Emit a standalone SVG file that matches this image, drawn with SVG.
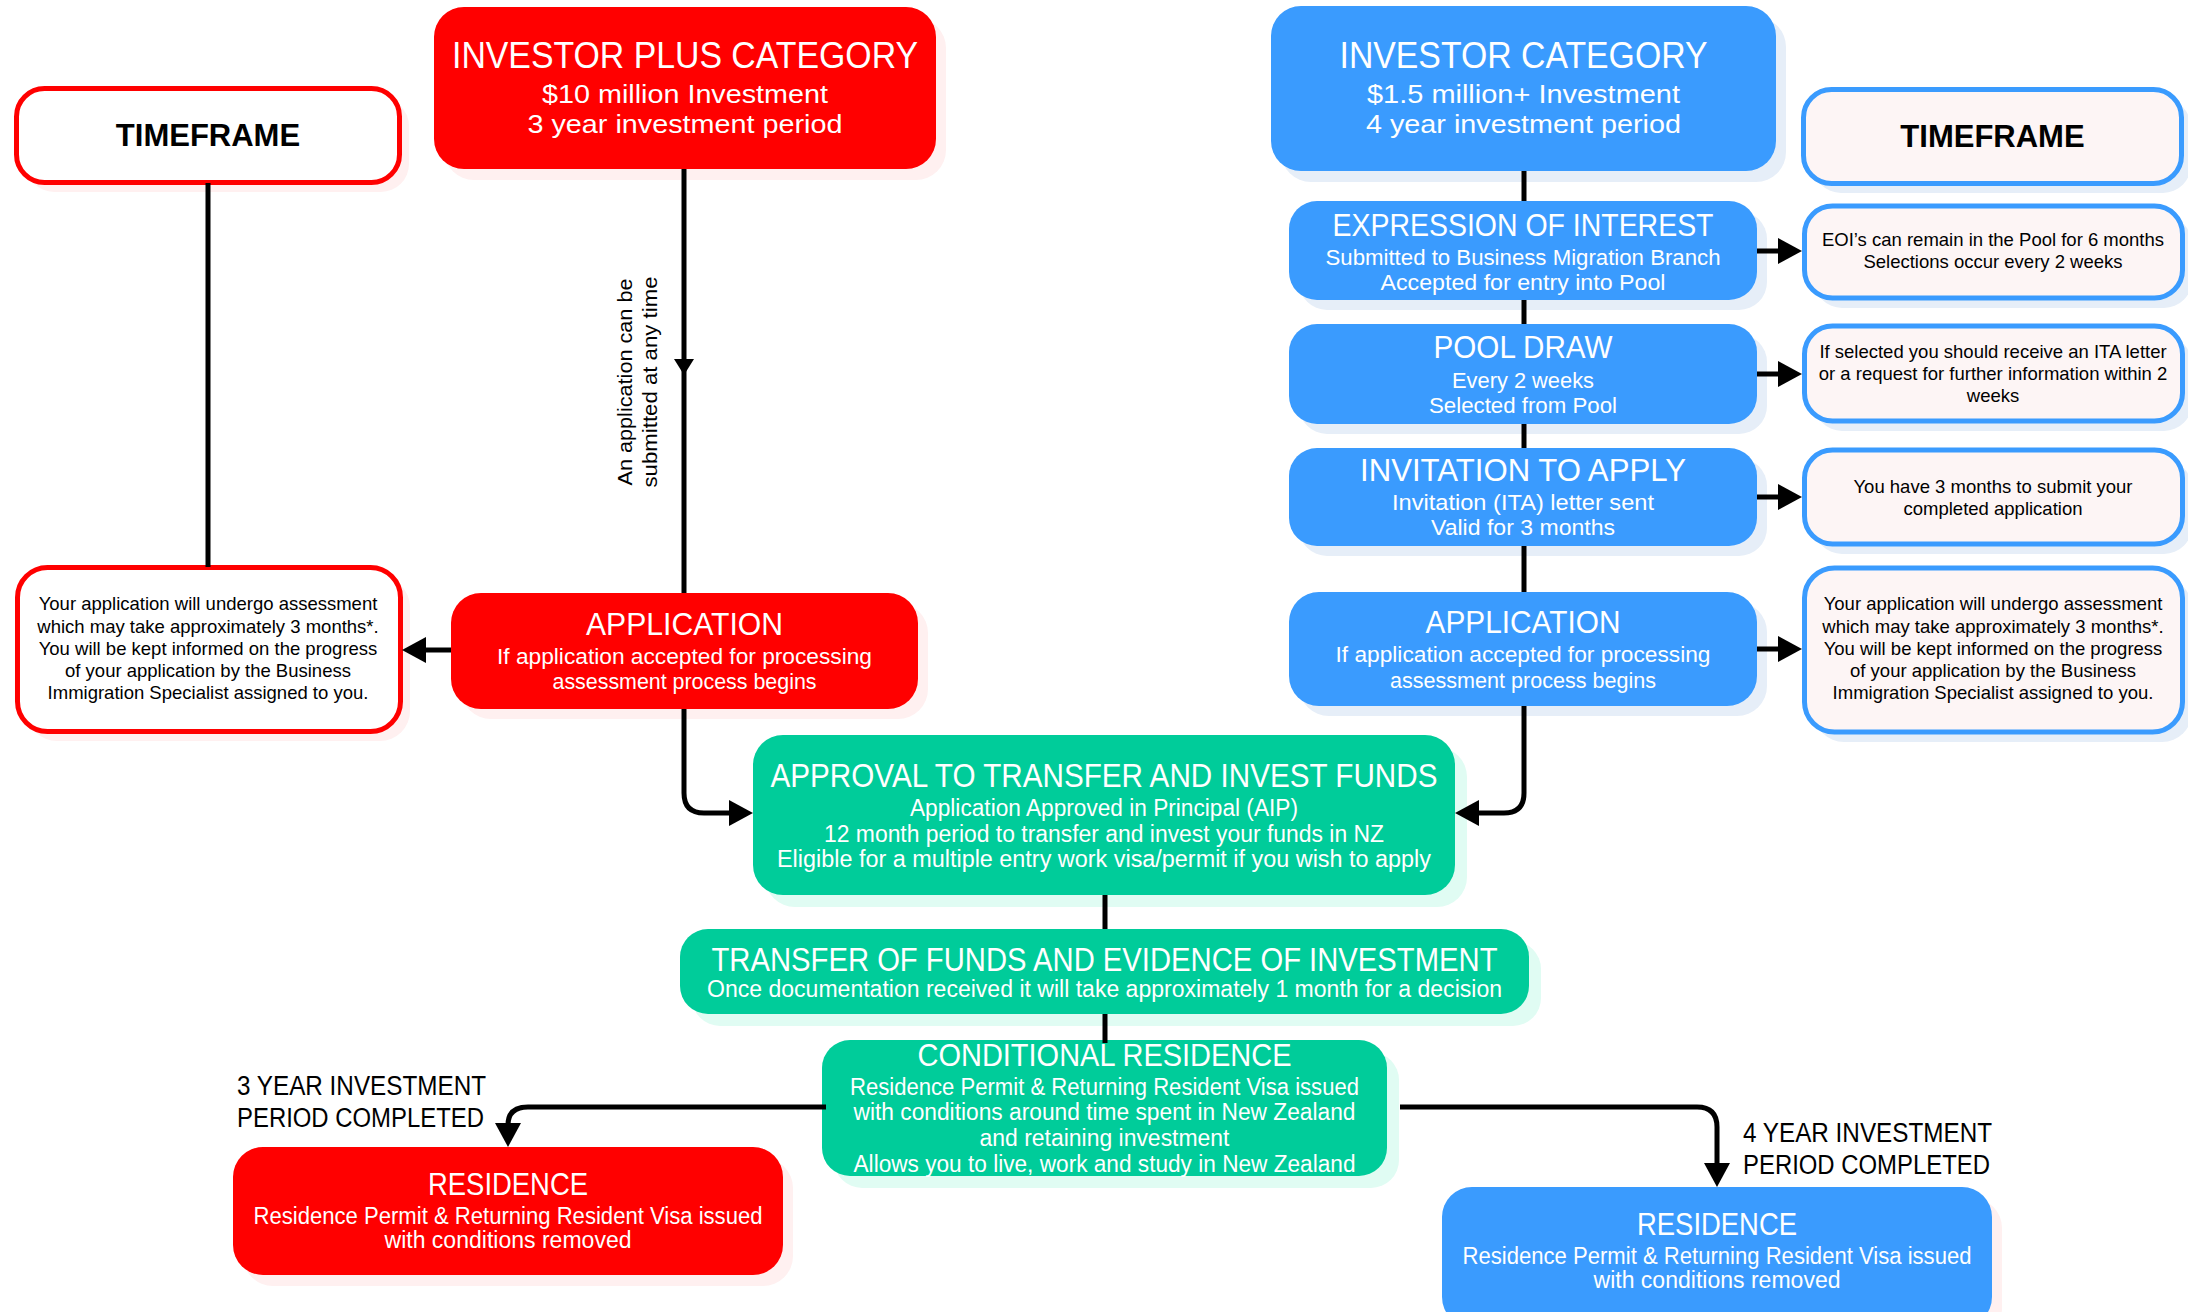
<svg xmlns="http://www.w3.org/2000/svg" width="2188" height="1312" viewBox="0 0 2188 1312">
<defs>
<style>
.w{font-family:"Liberation Sans",Arial,sans-serif;fill:#fff;text-anchor:middle}
.k{font-family:"Liberation Sans",Arial,sans-serif;fill:#000}
.d{font-family:"Liberation Sans",Arial,sans-serif;fill:#000;font-size:18.5px;text-anchor:middle}
.tf{font-family:"Liberation Sans",Arial,sans-serif;font-weight:bold;font-size:31px;fill:#000;text-anchor:middle}
.red{fill:#ff0000}
.blue{fill:#3a9bfe}
.green{fill:#00cc9a}
.shr{fill:#fff0f0}
.shb{fill:#e6eef8}
.shg{fill:#e0fcf3}
.bx-r{fill:#fff;stroke:#ff0000;stroke-width:5}
.bx-b{fill:#fdf5f5;stroke:#3a9bfe;stroke-width:5}
.ln{fill:none;stroke:#000;stroke-width:5}
</style>
<marker id="big" markerUnits="userSpaceOnUse" markerWidth="24" markerHeight="26" viewBox="0 0 24 26" refX="2" refY="13" orient="auto">
<path d="M0,0 L24,13 L0,26 z" fill="#000"/>
</marker>
<marker id="small" markerUnits="userSpaceOnUse" markerWidth="16" markerHeight="20" viewBox="0 0 16 20" refX="2" refY="10" orient="auto">
<path d="M0,0 L16,10 L0,20 z" fill="#000"/>
</marker>
</defs>
<rect width="2188" height="1312" fill="#fff"/>

<g id="timeframe-left">
<rect class="shr" x="26" y="98" width="383" height="94" rx="28"/>
<rect class="bx-r" x="16.5" y="88.5" width="383" height="94" rx="28"/>
<text class="tf" x="208" y="146">TIMEFRAME</text>
</g>

<g id="investor-plus">
<rect class="shr" x="444" y="18" width="502" height="162" rx="30"/>
<rect class="red" x="434" y="7" width="502" height="162" rx="30"/>
<text class="w" x="685" y="68" font-size="36" textLength="466" lengthAdjust="spacingAndGlyphs">INVESTOR PLUS CATEGORY</text>
<text class="w" x="685" y="103" font-size="25" textLength="286" lengthAdjust="spacingAndGlyphs">$10 million Investment</text>
<text class="w" x="685" y="133" font-size="25" textLength="315" lengthAdjust="spacingAndGlyphs">3 year investment period</text>
</g>

<g id="investor">
<rect class="shb" x="1281" y="17" width="505" height="165" rx="30"/>
<rect class="blue" x="1271" y="6" width="505" height="165" rx="30"/>
<text class="w" x="1523.5" y="68" font-size="36" textLength="368" lengthAdjust="spacingAndGlyphs">INVESTOR CATEGORY</text>
<text class="w" x="1523.5" y="103" font-size="25" textLength="313" lengthAdjust="spacingAndGlyphs">$1.5 million+ Investment</text>
<text class="w" x="1523.5" y="133" font-size="25" textLength="315" lengthAdjust="spacingAndGlyphs">4 year investment period</text>
</g>

<g id="timeframe-right">
<rect class="shb" x="1813" y="99" width="378" height="94" rx="28"/>
<rect class="bx-b" x="1803.5" y="89.5" width="378" height="94" rx="28"/>
<text class="tf" x="1992.5" y="147">TIMEFRAME</text>
</g>

<g id="eoi">
<rect class="shb" x="1299" y="211" width="468" height="99" rx="28"/>
<rect class="blue" x="1289" y="201" width="468" height="99" rx="28"/>
<text class="w" x="1523" y="236" font-size="31" textLength="381" lengthAdjust="spacingAndGlyphs">EXPRESSION OF INTEREST</text>
<text class="w" x="1523" y="265" font-size="22" textLength="395" lengthAdjust="spacingAndGlyphs">Submitted to Business Migration Branch</text>
<text class="w" x="1523" y="290" font-size="22" textLength="285" lengthAdjust="spacingAndGlyphs">Accepted for entry into Pool</text>
</g>

<g id="pool-draw">
<rect class="shb" x="1299" y="334" width="468" height="100" rx="28"/>
<rect class="blue" x="1289" y="324" width="468" height="100" rx="28"/>
<text class="w" x="1523" y="358" font-size="31" textLength="179" lengthAdjust="spacingAndGlyphs">POOL DRAW</text>
<text class="w" x="1523" y="388" font-size="22" textLength="142" lengthAdjust="spacingAndGlyphs">Every 2 weeks</text>
<text class="w" x="1523" y="413" font-size="22" textLength="188" lengthAdjust="spacingAndGlyphs">Selected from Pool</text>
</g>

<g id="ita">
<rect class="shb" x="1299" y="458" width="468" height="98" rx="28"/>
<rect class="blue" x="1289" y="448" width="468" height="98" rx="28"/>
<text class="w" x="1523" y="481" font-size="31" textLength="326" lengthAdjust="spacingAndGlyphs">INVITATION TO APPLY</text>
<text class="w" x="1523" y="510" font-size="22" textLength="262" lengthAdjust="spacingAndGlyphs">Invitation (ITA) letter sent</text>
<text class="w" x="1523" y="535" font-size="22" textLength="184" lengthAdjust="spacingAndGlyphs">Valid for 3 months</text>
</g>

<g id="application-blue">
<rect class="shb" x="1299" y="602" width="468" height="114" rx="30"/>
<rect class="blue" x="1289" y="592" width="468" height="114" rx="30"/>
<text class="w" x="1523" y="633" font-size="32" textLength="195" lengthAdjust="spacingAndGlyphs">APPLICATION</text>
<text class="w" x="1523" y="662" font-size="22" textLength="375" lengthAdjust="spacingAndGlyphs">If application accepted for processing</text>
<text class="w" x="1523" y="688" font-size="22" textLength="266" lengthAdjust="spacingAndGlyphs">assessment process begins</text>
</g>

<g id="eoi-timeframe">
<rect class="shb" x="1814" y="216" width="378" height="92" rx="28"/>
<rect class="bx-b" x="1804.5" y="206" width="378" height="92" rx="28"/>
<text class="d" x="1993" y="246">EOI’s can remain in the Pool for 6 months</text>
<text class="d" x="1993" y="268">Selections occur every 2 weeks</text>
</g>

<g id="pool-timeframe">
<rect class="shb" x="1814" y="336" width="378" height="95" rx="28"/>
<rect class="bx-b" x="1804.5" y="326" width="378" height="95" rx="28"/>
<text class="d" x="1993" y="358">If selected you should receive an ITA letter</text>
<text class="d" x="1993" y="380">or a request for further information within 2</text>
<text class="d" x="1993" y="402">weeks</text>
</g>

<g id="ita-timeframe">
<rect class="shb" x="1814" y="460" width="378" height="94" rx="28"/>
<rect class="bx-b" x="1804.5" y="450" width="378" height="94" rx="28"/>
<text class="d" x="1993" y="493">You have 3 months to submit your</text>
<text class="d" x="1993" y="515">completed application</text>
</g>

<g id="application-timeframe-right">
<rect class="shb" x="1814" y="578" width="378" height="164" rx="30"/>
<rect class="bx-b" x="1804.5" y="568" width="378" height="164" rx="30"/>
<text class="d" x="1993" y="610">Your application will undergo assessment</text>
<text class="d" x="1993" y="633">which may take approximately 3 months*.</text>
<text class="d" x="1993" y="655">You will be kept informed on the progress</text>
<text class="d" x="1993" y="677">of your application by the Business</text>
<text class="d" x="1993" y="699">Immigration Specialist assigned to you.</text>
</g>

<g id="application-timeframe-left">
<rect class="shr" x="27" y="577" width="383" height="164" rx="30"/>
<rect class="bx-r" x="17.5" y="567.5" width="383" height="164" rx="30"/>
<text class="d" x="208" y="610">Your application will undergo assessment</text>
<text class="d" x="208" y="633">which may take approximately 3 months*.</text>
<text class="d" x="208" y="655">You will be kept informed on the progress</text>
<text class="d" x="208" y="677">of your application by the Business</text>
<text class="d" x="208" y="699">Immigration Specialist assigned to you.</text>
</g>

<g id="application-red">
<rect class="shr" x="461" y="603" width="467" height="116" rx="30"/>
<rect class="red" x="451" y="593" width="467" height="116" rx="30"/>
<text class="w" x="684.5" y="635" font-size="32" textLength="197" lengthAdjust="spacingAndGlyphs">APPLICATION</text>
<text class="w" x="684.5" y="664" font-size="22" textLength="375" lengthAdjust="spacingAndGlyphs">If application accepted for processing</text>
<text class="w" x="684.5" y="689" font-size="22" textLength="264" lengthAdjust="spacingAndGlyphs">assessment process begins</text>
</g>

<g id="approval">
<rect class="shg" x="765" y="747" width="702" height="160" rx="30"/>
<rect class="green" x="753" y="735" width="702" height="160" rx="30"/>
<text class="w" x="1104" y="787" font-size="33" textLength="667" lengthAdjust="spacingAndGlyphs">APPROVAL TO TRANSFER AND INVEST FUNDS</text>
<text class="w" x="1104" y="816" font-size="23" textLength="388" lengthAdjust="spacingAndGlyphs">Application Approved in Principal (AIP)</text>
<text class="w" x="1104" y="842" font-size="23" textLength="560" lengthAdjust="spacingAndGlyphs">12 month period to transfer and invest your funds in NZ</text>
<text class="w" x="1104" y="867" font-size="23" textLength="654" lengthAdjust="spacingAndGlyphs">Eligible for a multiple entry work visa/permit if you wish to apply</text>
</g>

<g id="transfer">
<rect class="shg" x="692" y="941" width="849" height="85" rx="28"/>
<rect class="green" x="680" y="929" width="849" height="85" rx="28"/>
<text class="w" x="1104.5" y="971" font-size="34" textLength="786" lengthAdjust="spacingAndGlyphs">TRANSFER OF FUNDS AND EVIDENCE OF INVESTMENT</text>
<text class="w" x="1104.5" y="997" font-size="23" textLength="795" lengthAdjust="spacingAndGlyphs">Once documentation received it will take approximately 1 month for a decision</text>
</g>

<g id="conditional-residence">
<rect class="shg" x="834" y="1052" width="565" height="136" rx="28"/>
<rect class="green" x="822" y="1040" width="565" height="136" rx="28"/>
<text class="w" x="1104.5" y="1066" font-size="32" textLength="374" lengthAdjust="spacingAndGlyphs">CONDITIONAL RESIDENCE</text>
<text class="w" x="1104.5" y="1095" font-size="23" textLength="509" lengthAdjust="spacingAndGlyphs">Residence Permit &amp; Returning Resident Visa issued</text>
<text class="w" x="1104.5" y="1120" font-size="23" textLength="502" lengthAdjust="spacingAndGlyphs">with conditions around time spent in New Zealand</text>
<text class="w" x="1104.5" y="1146" font-size="23" textLength="250" lengthAdjust="spacingAndGlyphs">and retaining investment</text>
<text class="w" x="1104.5" y="1172" font-size="23" textLength="502" lengthAdjust="spacingAndGlyphs">Allows you to live, work and study in New Zealand</text>
</g>

<g id="residence-red">
<rect class="shr" x="243" y="1158" width="550" height="128" rx="30"/>
<rect class="red" x="233" y="1147" width="550" height="128" rx="30"/>
<text class="w" x="508" y="1195" font-size="32" textLength="160" lengthAdjust="spacingAndGlyphs">RESIDENCE</text>
<text class="w" x="508" y="1224" font-size="23" textLength="509" lengthAdjust="spacingAndGlyphs">Residence Permit &amp; Returning Resident Visa issued</text>
<text class="w" x="508" y="1248" font-size="23" textLength="247" lengthAdjust="spacingAndGlyphs">with conditions removed</text>
</g>

<g id="residence-blue">
<rect class="shr" x="1452" y="1198" width="550" height="140" rx="30"/>
<rect class="blue" x="1442" y="1187" width="550" height="140" rx="30"/>
<text class="w" x="1717" y="1235" font-size="32" textLength="160" lengthAdjust="spacingAndGlyphs">RESIDENCE</text>
<text class="w" x="1717" y="1264" font-size="23" textLength="509" lengthAdjust="spacingAndGlyphs">Residence Permit &amp; Returning Resident Visa issued</text>
<text class="w" x="1717" y="1288" font-size="23" textLength="247" lengthAdjust="spacingAndGlyphs">with conditions removed</text>
</g>

<g id="connectors">
<path class="ln" d="M208,183 V567"/>
<path class="ln" d="M684,169 V361" marker-end="url(#small)"/>
<path class="ln" d="M684,360 V593"/>
<path class="ln" d="M451,650 H424" marker-end="url(#big)"/>
<path class="ln" d="M1524,171 V201 M1524,300 V324 M1524,424 V448 M1524,546 V592"/>
<path class="ln" d="M1757,251 H1780" marker-end="url(#big)"/>
<path class="ln" d="M1757,374 H1780" marker-end="url(#big)"/>
<path class="ln" d="M1757,497 H1780" marker-end="url(#big)"/>
<path class="ln" d="M1757,649 H1780" marker-end="url(#big)"/>
<path class="ln" d="M684,709 V793 Q684,813 704,813 H731" marker-end="url(#big)"/>
<path class="ln" d="M1524,706 V793 Q1524,813 1504,813 H1477" marker-end="url(#big)"/>
<path class="ln" d="M1105,895 V929 M1105,1014 V1043"/>
<path class="ln" d="M826,1107 H528 Q508,1107 508,1125" marker-end="url(#big)"/>
<path class="ln" d="M1400,1107 H1697 Q1717,1107 1717,1127 V1165" marker-end="url(#big)"/>
<g transform="translate(632,382) rotate(-90)">
<text class="k" x="0" y="0" font-size="20" text-anchor="middle" textLength="207" lengthAdjust="spacingAndGlyphs">An application can be</text>
<text class="k" x="0" y="25" font-size="20" text-anchor="middle" textLength="211" lengthAdjust="spacingAndGlyphs">submitted at any time</text>
</g>
<text class="k" x="237" y="1095" font-size="27" textLength="249" lengthAdjust="spacingAndGlyphs">3 YEAR INVESTMENT</text>
<text class="k" x="237" y="1127" font-size="27" textLength="247" lengthAdjust="spacingAndGlyphs">PERIOD COMPLETED</text>
<text class="k" x="1743" y="1142" font-size="27" textLength="249" lengthAdjust="spacingAndGlyphs">4 YEAR INVESTMENT</text>
<text class="k" x="1743" y="1174" font-size="27" textLength="247" lengthAdjust="spacingAndGlyphs">PERIOD COMPLETED</text>
</g>
</svg>
